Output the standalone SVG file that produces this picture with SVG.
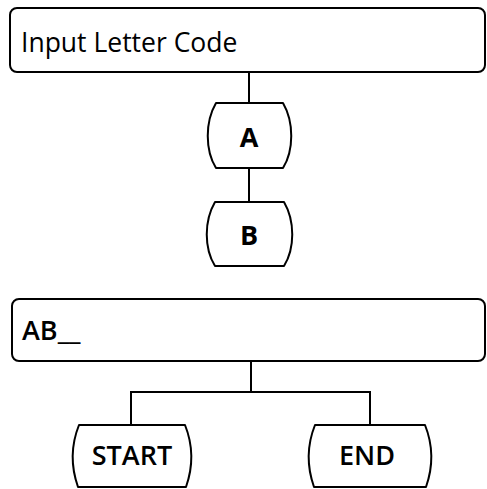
<svg xmlns="http://www.w3.org/2000/svg" width="487" height="489" viewBox="0 0 487 489">
<style>
.shape{fill:#fff;stroke:#000;stroke-width:2;stroke-linejoin:round}
.conn{fill:none;stroke:#000;stroke-width:2}
.t{font-family:"Open Sans","Liberation Sans",sans-serif;fill:#000}
.reg{font-size:26.5px;font-weight:400}
.bold{font-size:27px;font-weight:700}
.semi{font-size:27px;font-weight:600}
</style>
<rect width="487" height="489" fill="#fff"/>
<g id="connectors">
<line class="conn" x1="249" y1="72" x2="249" y2="103"/>
<line class="conn" x1="249" y1="168" x2="249" y2="202"/>
<polyline class="conn" points="251,361 251,392"/>
<polyline class="conn" points="131,425 131,392 370,392 370,425"/>
</g>
<g id="input-letter-code">
<rect class="shape" x="10" y="8" width="475" height="64" rx="7"/>
<text class="t reg" x="21" y="52">Input Letter Code</text>
</g>
<g id="node-a">
<path class="shape" d="M216,103 H283 C294,122 294,150 283,168 H216 C205,150 205,122 216,103 Z"/>
<text class="t bold" x="249" y="147" text-anchor="middle">A</text>
</g>
<g id="node-b">
<path class="shape" d="M215,202 H284 C295,221 295,248 284,266 H215 C204,248 204,221 215,202 Z"/>
<text class="t bold" x="249" y="245" text-anchor="middle">B</text>
</g>
<g id="ab-code">
<rect class="shape" x="12" y="299" width="473" height="62" rx="7"/>
<text class="t semi" x="22" y="340">AB__</text>
</g>
<g id="node-start">
<path class="shape" d="M79,425 H185 C193,445 193,467 186,487 H78 C71,467 71,445 79,425 Z"/>
<text class="t semi" x="132" y="465" text-anchor="middle">START</text>
</g>
<g id="node-end">
<path class="shape" d="M315,425 H425 C433,445 433,467 426,487 H314 C307,467 307,445 315,425 Z"/>
<text class="t semi" x="367" y="465" text-anchor="middle">END</text>
</g>
</svg>
